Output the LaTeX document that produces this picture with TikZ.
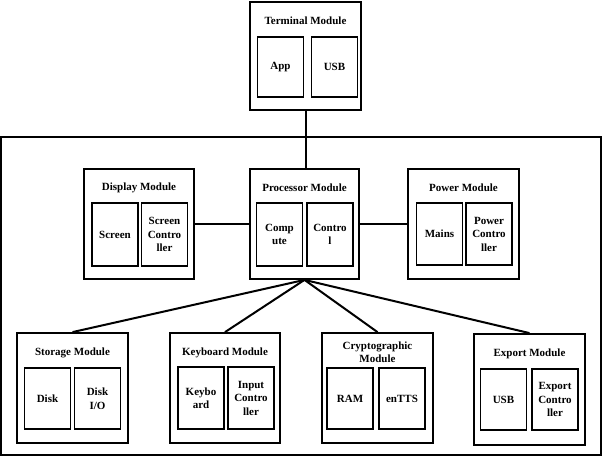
\documentclass[tikz,border=0pt]{standalone}
\usepackage{fontspec}
\setmainfont{Liberation Serif}
\begin{document}
\begin{tikzpicture}[x=1pt,y=-1pt,
  modbox/.style={draw, line width=1.8pt, inner sep=0pt, minimum width=110pt, minimum height=110pt},
  partbox/.style={draw, line width=1.8pt, inner sep=0pt, minimum width=46pt, minimum height=61pt, align=center, font=\fontsize{11}{13.5}\selectfont\bfseries},
  title/.style={inner sep=0pt, align=center, font=\fontsize{11}{13}\selectfont\bfseries},
  link/.style={line width=2pt}]
\useasboundingbox (0,0) rectangle (602,457);
% outer frame
\draw[line width=1.2pt] (1,137) rectangle (601,455);
% Terminal
\node[modbox, minimum width=111pt, minimum height=108pt] (term) at (305.5,56) {};
\node[title] (termt) at (305.5,21) {Terminal Module};
\node[partbox, minimum height=60pt] (app) at (280.5,67) {App};
\node[partbox, minimum height=60pt] (tusb) at (334.5,67) {USB};
% Display
\node[modbox] (disp) at (139,224) {};
\node[title] (dispt) at (139,188) {Display Module};
\node[partbox, minimum height=63pt] (screen) at (115,234.5) {Screen};
\node[partbox, minimum height=63pt] (scrc) at (164.5,234.5) {Screen\\Contro\\ller};
% Processor
\node[modbox, minimum width=109pt] (proc) at (304.5,224) {};
\node[title] (proct) at (304.5,188) {Processor Module};
\node[partbox, minimum height=63pt] (comp) at (279.5,234.5) {Comp\\ute};
\node[partbox, minimum height=63pt] (ctrl) at (330,234.5) {Contro\\l};
% Power
\node[modbox, minimum width=111pt] (power) at (463.5,224) {};
\node[title] (powert) at (463.5,188) {Power Module};
\node[partbox, minimum height=62pt] (mains) at (439.5,234) {Mains};
\node[partbox, minimum height=62pt] (powc) at (489,234) {Power\\Contro\\ller};
% Storage
\node[modbox, minimum width=111pt] (stor) at (72.5,388) {};
\node[title] (stort) at (72.5,353) {Storage Module};
\node[partbox] (disk) at (47.5,398.5) {Disk};
\node[partbox] (diskio) at (97.5,398.5) {Disk\\I/O};
% Keyboard
\node[modbox] (kbd) at (225,388) {};
\node[title] (kbdt) at (225,353) {Keyboard Module};
\node[partbox, minimum height=62pt] (keyb) at (201,398) {Keybo\\ard};
\node[partbox, minimum height=62pt] (inpc) at (251,398) {Input\\Contro\\ller};
% Cryptographic
\node[modbox, minimum width=111pt] (crypt) at (377.5,388) {};
\node[title] (cryptt) at (377.5,352.5) {Cryptographic\\Module};
\node[partbox] (ram) at (350,398.5) {RAM};
\node[partbox] (entts) at (402,398.5) {enTTS};
% Export
\node[modbox, minimum width=111pt, minimum height=111pt] (exp) at (529.5,389.5) {};
\node[title] (expt) at (529.5,354) {Export Module};
\node[partbox] (eusb) at (503.5,399.5) {USB};
\node[partbox] (expc) at (555,399.5) {Export\\Contro\\ller};
% connectors
\draw[link] (term.south) -- (term.south |- proc.north);
\draw[link] (disp.east) -- (proc.west);
\draw[link] (proc.east) -- (power.west);
\draw[link] (proc.south) -- (stor.north);
\draw[link] (proc.south) -- (kbd.north);
\draw[link] (proc.south) -- (crypt.north);
\draw[link] (proc.south) -- (exp.north);
\end{tikzpicture}
\end{document}
